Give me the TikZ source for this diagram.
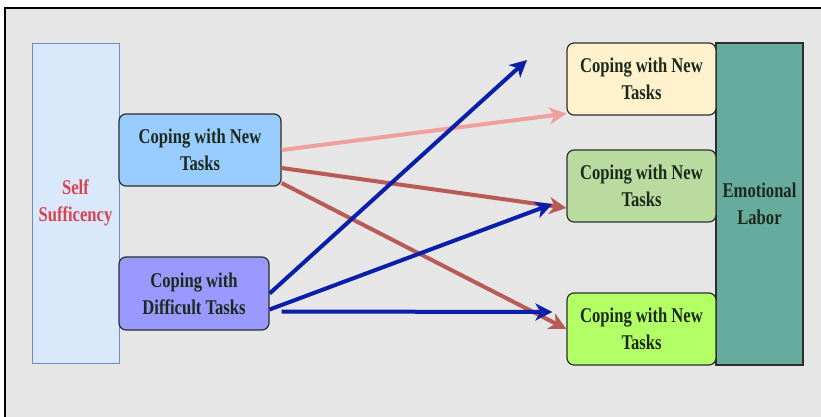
\documentclass[tikz,border=0pt]{standalone}
\usepackage{fontspec}
\setmainfont{Liberation Serif}[FakeStretch=0.79]
\usepackage{tikz}
\usetikzlibrary{arrows.meta}

\definecolor{bggray}{HTML}{E6E6E6}
\definecolor{selfblue}{HTML}{DAE8FC}
\definecolor{selfline}{HTML}{6C8EBF}
\definecolor{selfred}{HTML}{D9434F}
\definecolor{newblue}{HTML}{99CCFF}
\definecolor{diffblue}{HTML}{9999FF}
\definecolor{topyellow}{HTML}{FFF2CC}
\definecolor{midgreen}{HTML}{B9DBA0}
\definecolor{botgreen}{HTML}{B3FF66}
\definecolor{labteal}{HTML}{67AB9F}
\definecolor{boxline}{HTML}{2B2F2B}
\definecolor{textdark}{HTML}{1C2A1C}
\definecolor{arrpink}{HTML}{EFA09C}
\definecolor{arrbrown}{HTML}{B85A55}
\definecolor{arrblue}{HTML}{0A1FA8}

\tikzset{
  taskbox/.style={draw=boxline, line width=1.2pt, rounded corners=7pt,
    align=center, text=textdark, inner sep=0pt,
    font=\fontsize{21}{27}\selectfont\bfseries},
  sidebar/.style={draw=boxline, line width=1.2pt, align=center,
    text=textdark, inner sep=0pt, font=\fontsize{21}{27}\selectfont\bfseries},
  linkarrow/.style={line width=4pt,
    -{Stealth[length=17pt,width=17pt,inset=5pt]}}
}

\begin{document}
\begin{tikzpicture}[x=1pt,y=-1pt]
			% Background and frame
			\useasboundingbox (0,0) rectangle (821,417);
			\fill[white] (0,0) rectangle (821,417);
			\fill[bggray] (5,8) rectangle (821,417);
			\draw[line width=1.5pt] (5,417) -- (5,8) -- (821,8);
			
			% Draw the left column
			\node[draw=selfline, fill=selfblue, line width=0.8pt, minimum width=87pt,
			  minimum height=320pt, align=center, text=selfred, inner sep=0pt,
			  font=\fontsize{21}{27}\selectfont\bfseries] (self) at (75.5,203) {Self\\Sufficency};
			\node[taskbox, fill=newblue, minimum width=162pt, minimum height=72pt]
			  (lnew) at (200,150) {Coping with New\\Tasks};
			\node[taskbox, fill=diffblue, minimum width=150pt, minimum height=73pt]
			  (ldiff) at (194,293.5) {Coping with\\Difficult Tasks};
			
			% Draw the right column
			\node[sidebar, fill=labteal, minimum width=87pt, minimum height=322pt]
			  (labor) at (759.5,204) {Emotional\\Labor};
			\node[taskbox, fill=topyellow, minimum width=149pt, minimum height=72pt]
			  (rtop) at (641.5,79) {Coping with New\\Tasks};
			\node[taskbox, fill=midgreen, minimum width=149pt, minimum height=72pt]
			  (rmid) at (641.5,186) {Coping with New\\Tasks};
			\node[taskbox, fill=botgreen, minimum width=149pt, minimum height=72pt]
			  (rbot) at (641.5,329) {Coping with New\\Tasks};
			
			% Free end of the long blue arrow
			\coordinate (open) at (527,60);
			
			% Arrows from the new tasks box
			\draw[linkarrow, arrpink] (lnew.east) -- ([yshift=2pt]rtop.south west);
			\draw[linkarrow, arrbrown] ([yshift=-18pt]lnew.east) -- ([yshift=-22pt]rmid.west);
			\draw[linkarrow, arrbrown] ([yshift=-33pt]lnew.east) -- (rbot.west);
			
			% Arrows from the difficult tasks box
			\draw[linkarrow, arrblue] (ldiff.east) -- (open);
			\draw[linkarrow, arrblue] ([yshift=-16pt]ldiff.east) -- ([xshift=-14pt,yshift=-18pt]rmid.west);
			\draw[linkarrow, arrblue] ([xshift=12pt,yshift=-18pt]ldiff.east) -- ([xshift=-14pt,yshift=17pt]rbot.west);
		\end{tikzpicture}
\end{document}
